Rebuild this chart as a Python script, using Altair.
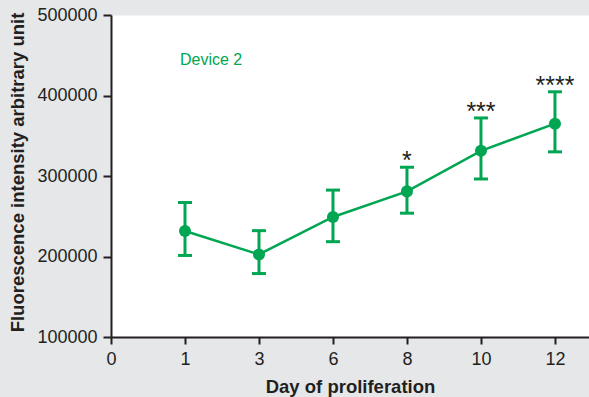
import json
import altair as alt
import pandas as pd

# Days sampled and the x-axis tick labels (evenly spaced, day 0 at the origin)
tick_labels = ["0", "1", "3", "6", "8", "10", "12"]
days = ["1", "3", "6", "8", "10", "12"]

# Mean fluorescence and error-bar limits for Device 2
mean = [231600, 202500, 249100, 280900, 331300, 365000]
upper = [267100, 232100, 282500, 310900, 372100, 404600]
lower = [201300, 178800, 218400, 253800, 296300, 330000]
stars = ["", "", "", "*", "***", "****"]

y_ticks = [100000, 200000, 300000, 400000, 500000]

GREEN = "#00a651"
INK = "#231f20"
FONT = "Liberation Sans, Arial, sans-serif"

df = pd.DataFrame({
    "day": days,
    "pos": [tick_labels.index(d) for d in days],
    "mean": mean,
    "upper": upper,
    "lower": lower,
    "stars": stars,
})

label_expr = json.dumps(tick_labels) + "[datum.value]"

x_enc = alt.X(
    "pos:Q",
    scale=alt.Scale(domain=[0, 6.46], nice=False, zero=False),
    axis=alt.Axis(
        values=list(range(len(tick_labels))),
        labelExpr=label_expr,
        labelFlush=False,
        title="Day of proliferation",
        titleY=55,
        titleBaseline="alphabetic",
    ),
)
y_scale = alt.Scale(domain=[100000, 500000], nice=False, zero=False)
y_enc = alt.Y(
    "mean:Q",
    scale=y_scale,
    axis=alt.Axis(
        values=y_ticks,
        format="d",
        labelFlush=False,
        title="Fluorescence intensity arbitrary unit",
        titleX=-94,
        titleY=157,
        titleBaseline="middle",
    ),
)

base = alt.Chart(df)

line = base.mark_line(color=GREEN, strokeWidth=2.5).encode(x=x_enc, y=y_enc)
points = base.mark_point(filled=True, color=GREEN, opacity=1, size=145).encode(x=x_enc, y=y_enc)
bars = base.mark_rule(color=GREEN, strokeWidth=3).encode(
    x=x_enc, y=alt.Y("lower:Q", scale=y_scale), y2="upper:Q"
)
cap_hi = base.mark_tick(color=GREEN, orient="horizontal", size=14, thickness=3, opacity=1).encode(
    x=x_enc, y=alt.Y("upper:Q", scale=y_scale)
)
cap_lo = base.mark_tick(color=GREEN, orient="horizontal", size=14, thickness=3, opacity=1).encode(
    x=x_enc, y=alt.Y("lower:Q", scale=y_scale)
)
star_text = base.mark_text(
    font=FONT, fontSize=25, color=INK, baseline="alphabetic", dy=2
).encode(x=x_enc, y=alt.Y("upper:Q", scale=y_scale), text="stars:N")

legend_label = alt.Chart(pd.DataFrame({"label": ["Device 2"]})).mark_text(
    font=FONT, fontSize=16, color=GREEN, align="left", baseline="alphabetic"
).encode(x=alt.value(69), y=alt.value(50), text="label:N")

chart = (
    alt.layer(bars, cap_hi, cap_lo, line, points, star_text, legend_label)
    .properties(
        width=478,
        height=322,
        autosize="none",
        padding={"left": 111, "top": 15, "right": 0, "bottom": 60},
    )
    .configure(background="#e6e7e9")
    .configure_view(fill="white", stroke="transparent")
    .configure_axis(
        grid=False,
        domainColor=INK,
        domainWidth=2,
        tickColor=INK,
        tickWidth=2,
        labelFont=FONT,
        labelFontSize=18,
        labelColor=INK,
        titleFont=FONT,
        titleFontWeight="bold",
        titleColor=INK,
    )
    .configure_axisX(tickSize=7, labelPadding=6, titleFontSize=18.5)
    .configure_axisY(tickSize=8, labelPadding=6, titleFontSize=18.5)
)

chart.save("out.html", embed_options={"renderer": "svg", "actions": False})
